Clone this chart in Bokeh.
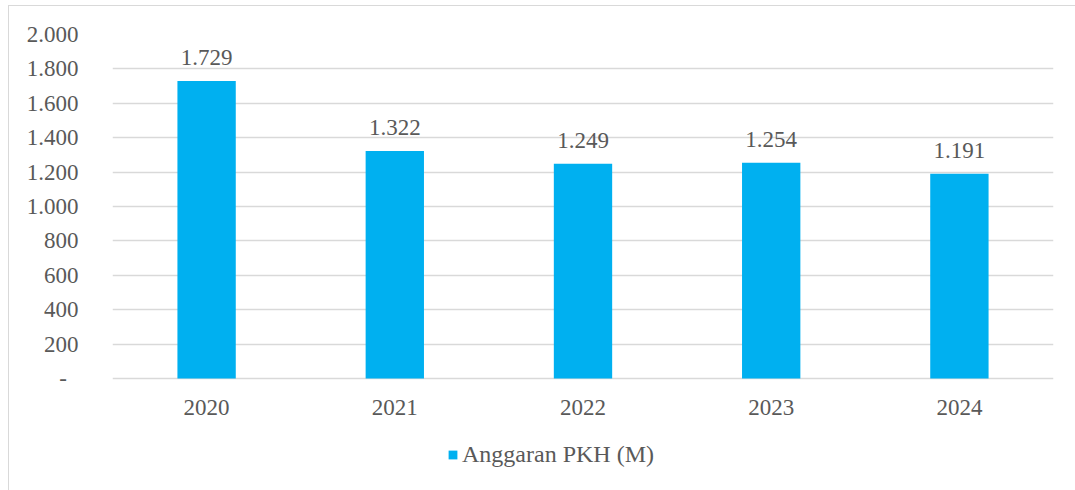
from bokeh.plotting import figure
from bokeh.models import ColumnDataSource, LabelSet, Legend, LegendItem, FixedTicker
from bokeh.embed import file_html
from bokeh.resources import INLINE

years = ["2020", "2021", "2022", "2023", "2024"]
values = [1729, 1322, 1249, 1254, 1191]
series_name = "Anggaran PKH (M)"
y_ticks = [0, 200, 400, 600, 800, 1000, 1200, 1400, 1600, 1800, 2000]
y_tick_labels = ["-\u00a0\u00a0", "200", "400", "600", "800", "1.000", "1.200", "1.400", "1.600", "1.800", "2.000"]

FONT = "Liberation Serif"
FS = "23px"
TXT = "#595959"
GRID = "#d9d9d9"
BAR = "#00b0f0"

# frame extends below the zero line so the legend can sit inside it
PLOT_H = 344           # pixels for 0..2000
EXTRA_H = 112          # extra pixels below zero line
Y_MAX = 2000
y_min = -EXTRA_H * Y_MAX / PLOT_H

labels = ["{:,}".format(v).replace(",", ".") for v in values]
src = ColumnDataSource(dict(x=years, top=values, lab=labels, base=[0] * len(years)))

p = figure(x_range=years, y_range=(y_min, Y_MAX), frame_width=941, frame_height=PLOT_H + EXTRA_H,
           output_backend="svg", toolbar_location=None,
           min_border_left=103, min_border_right=23, min_border_top=28, min_border_bottom=0)
p.styles = {"margin-left": "8px", "margin-top": "5px",
            "border-left": "1px solid #d9d9d9", "border-top": "1px solid #d9d9d9"}
p.outline_line_color = None
p.background_fill_color = "white"
p.border_fill_color = "white"

r = p.vbar(x="x", top="top", bottom="base", width=0.31, source=src, color=BAR, line_color=None)

p.add_layout(LabelSet(x="x", y="top", text="lab", source=src, text_align="center",
                      text_baseline="alphabetic", y_offset=16, text_font=FONT,
                      text_font_size=FS, text_color=TXT))
# category labels under the zero line
p.add_layout(LabelSet(x="x", y="base", text="x", source=src, text_align="center",
                      text_baseline="middle", y_offset=-29, text_font=FONT,
                      text_font_size=FS, text_color=TXT))

p.xaxis.visible = False
p.xgrid.grid_line_color = None
p.ygrid.grid_line_color = GRID
p.ygrid.grid_line_width = 1.5
p.yaxis.ticker = FixedTicker(ticks=y_ticks)
p.yaxis.major_label_overrides = {t: l for t, l in zip(y_ticks, y_tick_labels)}

ax = p.yaxis[0]
ax.axis_line_color = None
ax.major_tick_line_color = None
ax.minor_tick_line_color = None
ax.major_label_text_font = FONT
ax.major_label_text_font_size = FS
ax.major_label_text_color = TXT
ax.major_label_standoff = 28

legend = Legend(items=[LegendItem(label=series_name, renderers=[r])],
                orientation="horizontal", location=(335, 22),
                label_text_font=FONT, label_text_font_size="24px", label_text_color=TXT,
                glyph_width=11, glyph_height=11, label_height=24, label_standoff=4,
                border_line_color=None, background_fill_alpha=0,
                padding=0, margin=0)
p.add_layout(legend, "center")

open("out.html", "w").write(file_html(p, INLINE))
